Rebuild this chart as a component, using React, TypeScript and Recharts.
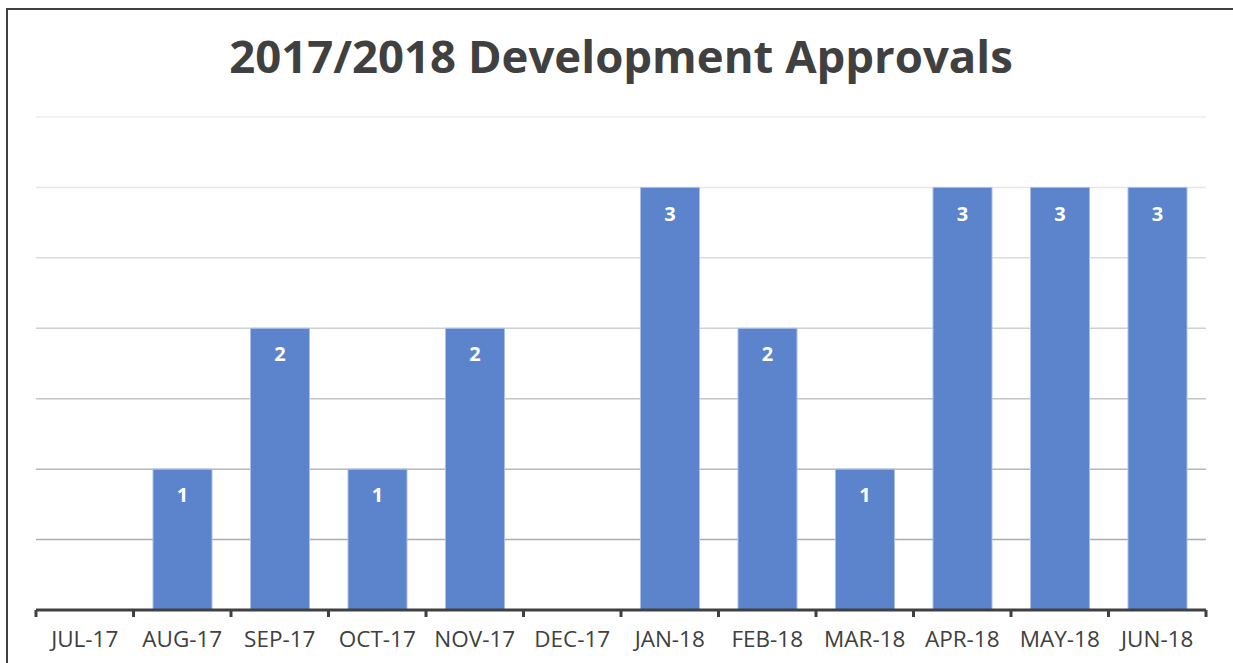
import { BarChart, Bar, XAxis, YAxis, CartesianGrid, LabelList } from "recharts";

// Monthly development approvals, FY 2017/2018
const months = [
  "JUL-17",
  "AUG-17",
  "SEP-17",
  "OCT-17",
  "NOV-17",
  "DEC-17",
  "JAN-18",
  "FEB-18",
  "MAR-18",
  "APR-18",
  "MAY-18",
  "JUN-18",
];
const approvals = [0, 1, 2, 1, 2, 0, 3, 2, 1, 3, 3, 3];
const yTicks = [0, 0.5, 1, 1.5, 2, 2.5, 3, 3.5];

const chartData = months.map((m, i) => ({ month: m, value: approvals[i] }));

const W = 1233;
const H = 663;
const MARGIN = { top: 117, right: 27, left: 36, bottom: 0 };
const BAND = (W - MARGIN.left - MARGIN.right) / months.length;
const DARK = "#404040";
// grid lines fade from dark (bottom) to light (top)
const gridColors = ["#a6a6a6", "#adadad", "#b8b8b8", "#c4c4c4", "#d0d0d0", "#dcdcdc", "#e6e6e6", "#ececec"];

const MonthTick = ({ x, y, payload, index }: any) => (
  <g>
    <line x1={x - BAND / 2} x2={x - BAND / 2} y1={y} y2={y + 7} stroke={DARK} strokeWidth={3} />
    {index === months.length - 1 && (
      <line x1={x + BAND / 2} x2={x + BAND / 2} y1={y} y2={y + 7} stroke={DARK} strokeWidth={3} />
    )}
    <text
      x={x}
      y={y + 37}
      textAnchor="middle"
      fill={DARK}
      fontSize={22.5}
      fontFamily="'Open Sans', sans-serif"
    >
      {payload.value}
    </text>
  </g>
);

const GridLine = (props: any) => {
  const { x1, x2, y1, y2, index } = props;
  const n = yTicks.length;
  // index 0 is the baseline (covered by the axis)
  return <line x1={x1} x2={x2} y1={y1} y2={y2} stroke={gridColors[Math.min(index, n - 1)]} strokeWidth={1.5} />;
};

export default function App() {
  return (
    <div
      style={{
        position: "absolute",
        left: 0,
        top: 0,
        width: W,
        height: H,
        background: "#fff",
        overflow: "hidden",
      }}
    >
      <div
        style={{
          position: "absolute",
          left: 6,
          top: 8,
          width: W + 20,
          height: H + 20,
          borderLeft: `2px solid ${DARK}`,
          borderTop: `2px solid ${DARK}`,
        }}
      />
      <div
        style={{
          position: "absolute",
          left: MARGIN.left,
          top: 32,
          width: W - MARGIN.left - MARGIN.right,
          textAlign: "center",
          fontFamily: "'Open Sans', sans-serif",
          fontWeight: 700,
          fontSize: 45.5,
          lineHeight: "46px",
          color: DARK,
        }}
      >
        2017/2018 Development Approvals
      </div>
      <div style={{ position: "absolute", left: 0, top: 0 }}>
        <BarChart width={W} height={H} data={chartData} margin={MARGIN} barCategoryGap="20%">
          <CartesianGrid vertical={false} horizontal={GridLine} />
          <YAxis hide domain={[0, 3.5]} ticks={yTicks} />
          <XAxis
            dataKey="month"
            height={53}
            interval={0}
            axisLine={{ stroke: DARK, strokeWidth: 3 }}
            tickLine={false}
            tickSize={0}
            tickMargin={0}
            tick={<MonthTick />}
          />
          <Bar dataKey="value" fill="#5b84cc" stroke="#a9bfe6" strokeWidth={1} isAnimationActive={false}>
            <LabelList
              dataKey="value"
              position="insideTop"
              offset={19}
              fill="#ffffff"
              fontSize={20}
              fontWeight={700}
              fontFamily="'Open Sans', sans-serif"
              formatter={(v: any) => (v ? v : "")}
            />
          </Bar>
        </BarChart>
      </div>
    </div>
  );
}
